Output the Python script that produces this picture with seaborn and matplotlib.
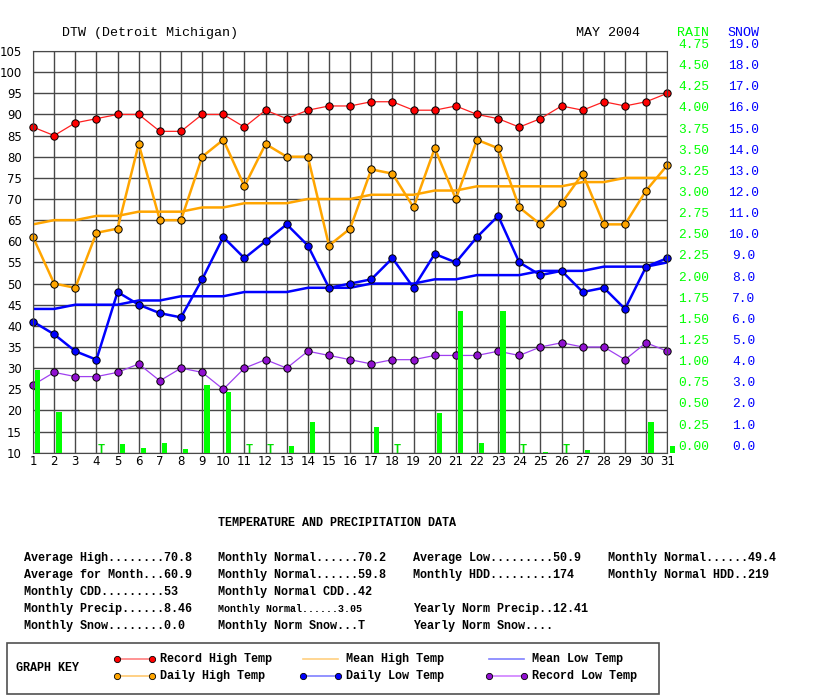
import numpy as np
import pandas as pd
import matplotlib
matplotlib.use("Agg")
import matplotlib.pyplot as plt
from matplotlib.patches import Rectangle
import seaborn as sns

# daily data, May 2004, DTW
days = list(range(1, 32))
record_high = [87, 85, 88, 89, 90, 90, 86, 86, 90, 90, 87, 91, 89, 91, 92, 92,
               93, 93, 91, 91, 92, 90, 89, 87, 89, 92, 91, 93, 92, 93, 95]
daily_high = [61, 50, 49, 62, 63, 83, 65, 65, 80, 84, 73, 83, 80, 80, 59, 63,
              77, 76, 68, 82, 70, 84, 82, 68, 64, 69, 76, 64, 64, 72, 78]
mean_high = [64, 65, 65, 66, 66, 67, 67, 67, 68, 68, 69, 69, 69, 70, 70, 70,
             71, 71, 71, 72, 72, 73, 73, 73, 73, 73, 74, 74, 75, 75, 75]
daily_low = [41, 38, 34, 32, 48, 45, 43, 42, 51, 61, 56, 60, 64, 59, 49, 50,
             51, 56, 49, 57, 55, 61, 66, 55, 52, 53, 48, 49, 44, 54, 56]
mean_low = [44, 44, 45, 45, 45, 46, 46, 47, 47, 47, 48, 48, 48, 49, 49, 49,
            50, 50, 50, 51, 51, 52, 52, 52, 53, 53, 53, 54, 54, 54, 55]
record_low = [26, 29, 28, 28, 29, 31, 27, 30, 29, 25, 30, 32, 30, 34, 33, 32,
              31, 32, 32, 33, 33, 33, 34, 33, 35, 36, 35, 35, 32, 36, 34]
rain = [0.98, 0.48, 0, 0, 0.10, 0.06, 0.12, 0.04, 0.80, 0.72, 0, 0, 0.08, 0.36, 0, 0,
        0.30, 0, 0, 0.47, 1.68, 0.11, 1.68, 0, 0.01, 0, 0.03, 0, 0, 0.36, 0.08]
trace_days = [4, 11, 12, 18, 24, 26]

temp_ticks = list(range(10, 106, 5))
rain_ticks = [i * 0.25 for i in range(20)]
snow_ticks = [float(i) for i in range(20)]

station = "DTW (Detroit Michigan)"
month = "MAY 2004"
block_title = "TEMPERATURE AND PRECIPITATION DATA"
stats_col1 = ["Average High........70.8", "Average for Month...60.9", "Monthly CDD.........53",
              "Monthly Precip......8.46", "Monthly Snow........0.0"]
stats_col2 = ["Monthly Normal......70.2", "Monthly Normal......59.8", "Monthly Normal CDD..42",
              "Monthly Normal......3.05", "Monthly Norm Snow...T"]
stats_col3 = ["Average Low.........50.9", "Monthly HDD.........174", "",
              "Yearly Norm Precip..12.41", "Yearly Norm Snow...."]
stats_col4 = ["Monthly Normal......49.4", "Monthly Normal HDD..219", "", "", ""]

df = pd.DataFrame({"day": days, "record_high": record_high, "daily_high": daily_high,
                   "mean_high": mean_high, "daily_low": daily_low, "mean_low": mean_low,
                   "record_low": record_low, "rain": rain})

W, H = 813, 696
PT = 72 / 100  # points per pixel at dpi 100
mono = "Liberation Mono"
fig = plt.figure(figsize=(W / 100, H / 100), dpi=100)

# main temperature axes (pixel box 33..667 x 51..453)
ax = fig.add_axes([33 / W, 1 - 452.7 / H, (667.3 - 33) / W, (452.7 - 51) / H])
ax.set_xlim(1, 31)
ax.set_ylim(10, 105)
ax.set_xticks(days)
ax.set_yticks(temp_ticks)
ax.grid(True, color="#484848", lw=1.0)
ax.set_axisbelow(True)
for s in ax.spines.values():
    s.set_color("#484848")
ax.tick_params(length=0, labelsize=8.5, pad=2)
ax.tick_params(axis="y", pad=8)

mk = dict(marker="o", markersize=5.3, markeredgecolor="black", markeredgewidth=0.7,
          clip_on=False)
sns.lineplot(data=df, x="day", y="mean_high", ax=ax, color="#ffa500", lw=1.8)
sns.lineplot(data=df, x="day", y="mean_low", ax=ax, color="#0000ff", lw=1.8)
sns.lineplot(data=df, x="day", y="record_high", ax=ax, color="#ff2020", lw=0.9,
             markerfacecolor="#ff0000", **mk)
sns.lineplot(data=df, x="day", y="daily_high", ax=ax, color="#ffa500", lw=1.8,
             markerfacecolor="#ffa500", **mk)
sns.lineplot(data=df, x="day", y="daily_low", ax=ax, color="#0000ff", lw=1.8,
             markerfacecolor="#0000ff", **mk)
sns.lineplot(data=df, x="day", y="record_low", ax=ax, color="#a040f0", lw=0.9,
             markerfacecolor="#9010d0", **mk)
ax.set_xlabel("")
ax.set_ylabel("")

# rain axis
ax_r = ax.twinx()
ax_r.set_ylim(0, 4.75)
ax_r.set_yticks(rain_ticks, [f"{v:.2f}" for v in rain_ticks])
ax_r.tick_params(length=0, labelsize=9.3, labelcolor="#00ff00", pad=11 * PT)
for t in ax_r.get_yticklabels():
    t.set_fontfamily(mono)
    t.set_va("bottom")
bars = ax_r.bar(df["day"] + 0.23, df["rain"], width=0.24, color="#00ff00", zorder=1)
for b in bars:
    b.set_clip_on(False)
for d in trace_days:
    ax_r.text(d + 0.2, 0, "T", color="#00e000", fontsize=8.5, family=mono,
              weight="bold", ha="center", va="baseline", zorder=5)

# snow axis (labels only)
ax_s = ax.twinx()
ax_s.set_ylim(0, 19)
ax_s.set_yticks(snow_ticks, [f"{v:.1f}" for v in snow_ticks])
ax_s.tick_params(length=0, labelsize=9.3, labelcolor="#0000ff", pad=76.5 * PT)
for t in ax_s.get_yticklabels():
    t.set_fontfamily(mono)
    t.set_va("bottom")
    t.set_ha("center")
for a in (ax_r, ax_s):
    for s in a.spines.values():
        s.set_visible(False)

# overlay for header text, data block and key (pixel coordinates)
ov = fig.add_axes([0, 0, 1, 1])
ov.set_xlim(0, W)
ov.set_ylim(H, 0)
ov.axis("off")

ov.text(62, 33, station, family=mono, fontsize=9.6, va="center")
ov.text(576, 33, month, family=mono, fontsize=9.6, va="center")
ov.text(677, 33, "RAIN", family=mono, fontsize=9.6, va="center", color="#00ff00")
ov.text(727, 33, "SNOW", family=mono, fontsize=9.6, va="center", color="#0000ff")

ov.text(218, 523, block_title, family=mono, fontsize=8.5, va="center", weight="bold")
row_y = [557.7, 575, 592.3, 609.3, 626.3]
for col_x, col in zip([24, 218, 413, 608], [stats_col1, stats_col2, stats_col3, stats_col4]):
    for y, s in zip(row_y, col):
        size = 7.2 if s == "Monthly Normal......3.05" else 8.5
        ov.text(col_x, y, s, family=mono, fontsize=size, va="center", weight="bold")

# graph key
ov.add_patch(Rectangle((7, 643), 652, 51, fill=False, edgecolor="#505050", lw=1.2))
ov.text(16, 668, "GRAPH KEY", family=mono, fontsize=8.5, va="center", weight="bold")
key = [
    (117, 659, "#ff8080", "#ff0000", "Record High Temp"),
    (117, 676, "#ffc870", "#ffa500", "Daily High Temp"),
    (303, 659, "#ffd080", None, "Mean High Temp"),
    (303, 676, "#8080ff", "#0000ff", "Daily Low Temp"),
    (489, 659, "#8080ff", None, "Mean Low Temp"),
    (489, 676, "#d080ff", "#9010d0", "Record Low Temp"),
]
for x0, y0, lc, fc, label in key:
    ov.plot([x0, x0 + 35], [y0, y0], color=lc, lw=1.2)
    if fc:
        ov.plot([x0, x0 + 35], [y0, y0], ls="none", marker="o", markersize=4.5,
                markerfacecolor=fc, markeredgecolor="black", markeredgewidth=0.6)
    ov.text(x0 + 43, y0, label, family=mono, fontsize=8.5, va="center", weight="bold")

fig.savefig("out.png", dpi=100)
